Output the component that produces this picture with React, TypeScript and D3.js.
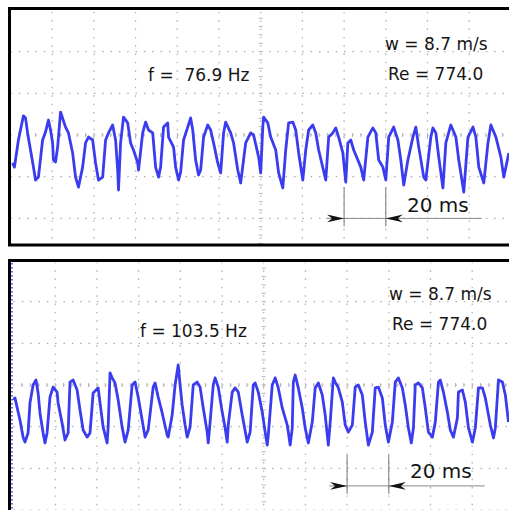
import React, { useRef, useEffect } from "react";
import * as d3 from "d3";

// time (ms) and amplitude (grid divisions)
const topTrace: [number, number][] = [
  [1.0, -0.67], [1.9, -0.77], [3.8, -0.12], [6.2, 0.46], [7.2, 0.41], [8.2, 0.05], [9.6, -0.36], [11.0, -0.77],
  [12.0, -1.08], [13.4, -1.01], [15.4, -0.12], [16.8, 0.07], [18.2, 0.36], [19.2, 0.12], [20.2, -0.19], [20.6, -0.6],
  [21.6, -0.65], [22.6, -0.29], [24.0, 0.55], [26.4, 0.19], [27.8, 0.05], [29.8, -0.43], [31.2, -1.01], [32.6, -1.25],
  [34.6, -0.77], [36.0, -0.19], [37.4, -0.05], [39.4, -0.12], [40.8, -0.67], [42.2, -1.08], [44.2, -1.01], [45.6, -0.12],
  [47.0, 0.05], [49.0, 0.24], [50.4, -0.12], [51.4, -0.84], [51.8, -1.32], [52.8, -0.19], [54.2, 0.43], [56.2, 0.29],
  [57.6, -0.19], [59.0, -0.36], [61.0, -0.67], [61.4, -0.84], [63.4, 0.05], [64.8, 0.31], [66.2, 0.12], [68.2, 0.05],
  [69.6, -0.77], [71.0, -1.01], [72.0, -0.77], [73.4, 0.19], [75.4, 0.29], [75.8, -0.05], [78.2, -0.29], [79.2, -0.77],
  [80.6, -1.08], [81.6, -0.89], [83.0, -0.12], [85.0, 0.19], [86.4, 0.41], [87.4, 0.12], [88.8, -0.6], [90.2, -0.96],
  [91.2, -0.84], [92.6, -0.05], [94.6, 0.24], [96.0, 0.12], [97.4, -0.19], [99.4, -0.67], [100.8, -0.91], [102.2, 0.05],
  [103.2, 0.31], [105.6, 0.05], [107.0, -0.19], [109.0, -0.84], [110.4, -1.15], [112.8, -0.19], [115.2, 0.05], [116.6, 0],
  [119.0, -0.53], [120.0, -0.91], [121.0, 0.19], [121.4, 0.43], [123.4, 0.29], [124.8, -0.05], [127.2, -0.36], [128.6, -0.91],
  [130.6, -1.27], [132.0, -0.36], [133.4, 0.29], [135.4, 0.31], [136.8, 0.12], [138.2, -0.43], [140.2, -1.08], [141.6, -0.36],
  [143.0, 0.12], [145.0, 0.24], [146.4, 0.05], [147.8, -0.36], [151.2, -1.08], [152.6, -0.05], [154.6, 0.05], [156.0, 0.17],
  [157.4, -0.05], [159.4, -0.43], [160.8, -1.13], [161.8, -0.19], [163.2, -0.12], [164.6, -0.36], [166.6, -0.6], [168.0, -0.77],
  [169.4, -1.08], [171.4, -0.05], [173.8, 0.17], [175.2, 0.05], [176.6, -0.6], [178.6, -0.77], [180.0, -1.08], [181.4, -0.05],
  [183.8, 0.19], [185.8, -0.12], [187.2, -0.6], [188.6, -1.2], [190.6, -0.6], [193.0, -0.05], [194.4, 0.19], [195.8, -0.29],
  [198.2, -1.01], [199.2, -1.08], [201.6, -0.05], [202.6, 0.17], [204.0, 0.05], [205.4, -0.53], [207.4, -1.27], [208.8, -0.19],
  [211.2, 0.24], [213.6, -0.05], [215.0, -0.6], [217.4, -1.37], [219.4, -0.05], [221.8, 0.19], [223.2, -0.05], [224.6, -0.77],
  [227.0, -1.15], [229.0, -0.19], [230.4, 0.24], [232.8, -0.05], [235.2, -0.53], [236.6, -1.01], [239.0, -0.43],
];

const bottomTrace: [number, number][] = [
  [0, -0.36], [0.7, -0.31], [1.7, -0.53], [3.1, -0.84], [4.6, -1.25], [5.5, -1.37], [7.0, -1.15], [7.9, -0.43],
  [9.4, 0], [10.8, 0.12], [11.8, -0.19], [12.7, -0.67], [14.2, -1.15], [15.1, -1.39], [16.1, -1.15], [17.5, -0.29],
  [19.0, -0.05], [20.9, -0.17], [21.4, -0.43], [23.3, -0.91], [24.7, -1.32], [26.2, -1.15], [27.1, 0.07], [28.6, 0.12],
  [30.5, -0.12], [31.9, -0.6], [33.4, -1.08], [35.3, -1.25], [36.7, -1.15], [38.2, -0.19], [40.6, -0.07], [41.5, -0.43],
  [43.0, -1.01], [44.9, -1.39], [45.4, -1.01], [46.3, 0.29], [47.3, 0.17], [48.7, 0.05], [50.2, -0.36], [52.1, -1.01],
  [53.5, -1.37], [55.0, -1.08], [56.9, 0], [58.3, 0.07], [59.8, -0.29], [61.7, -0.84], [63.1, -1.25], [64.6, -1.08],
  [67.0, -0.05], [67.9, 0.05], [69.4, -0.29], [71.3, -0.67], [73.7, -1.2], [74.2, -1.25], [76.1, -0.72], [77.5, 0],
  [79.0, 0.48], [79.9, 0], [80.9, -0.48], [82.3, -0.96], [83.3, -1.25], [84.7, -1.01], [86.2, 0], [88.1, 0.07],
  [89.5, -0.05], [91.0, -0.55], [92.9, -1.13], [93.4, -1.39], [94.3, -0.89], [95.8, 0], [96.7, 0.17], [98.2, -0.05],
  [100.1, -0.65], [101.5, -1.03], [102.5, -1.37], [103.0, -0.96], [104.9, -0.17], [106.3, -0.07], [107.8, -0.17], [109.7, -0.72],
  [112.1, -1.37], [113.5, -1.13], [115.0, 0], [115.9, 0.05], [117.4, -0.17], [119.3, -0.65], [120.7, -1.13], [121.7, -1.44],
  [122.2, -1.2], [124.1, 0], [125.5, 0.17], [127.0, -0.07], [128.9, -0.55], [131.3, -0.96], [132.7, -1.44], [133.7, -1.03],
  [134.2, 0.07], [135.1, 0.24], [136.6, -0.07], [138.5, -0.55], [139.9, -1.03], [141.4, -1.39], [143.3, -0.89], [144.7, -0.07],
  [146.2, 0.05], [148.1, -0.24], [149.5, -0.72], [151.0, -1.44], [151.9, -0.89], [153.4, 0.17], [154.3, 0.07], [155.8, -0.07],
  [157.7, -0.41], [159.1, -0.96], [160.6, -1.13], [162.5, -0.96], [163.9, -0.05], [165.4, 0], [167.3, -0.24], [168.7, -0.89],
  [170.2, -1.44], [172.1, -1.13], [173.5, -0.07], [175.0, -0.05], [176.9, -0.31], [178.3, -0.96], [179.8, -1.37], [181.7, -0.89],
  [183.1, 0.07], [184.6, 0.17], [186.5, -0.07], [187.9, -0.48], [189.4, -1.03], [190.8, -1.39], [191.8, -1.03], [192.7, 0],
  [194.2, 0.05], [196.1, -0.07], [197.5, -0.55], [199.0, -1.13], [200.9, -1.25], [202.3, -0.89], [203.8, 0.07], [204.7, 0.12],
  [206.2, -0.17], [208.1, -0.65], [209.5, -1.08], [211.0, -1.25], [212.9, -0.79], [213.4, -0.17], [215.3, -0.12], [216.7, -0.41],
  [218.2, -1.03], [220.1, -1.37], [221.5, -1.03], [223.0, -0.07], [224.9, -0.07], [226.3, -0.31], [228.7, -0.96], [230.2, -1.27],
  [231.1, -1.03], [232.6, 0.12], [234.5, 0.07], [235.9, -0.24], [237.4, -0.89],
];

const gridTimes = [20, 40, 60, 80, 100, 120, 140, 160, 180, 200, 220, 240];
const centerTime = 120;
const scaleBarMs = [160, 180];

const panels = [
  {
    trace: topTrace,
    freq: "f =  76.9 Hz",
    speed: "w = 8.7 m/s",
    reynolds: "Re = 774.0",
    gridDivs: [-2, -1, 0, 1, 2],
    bar: -2.0,
  },
  {
    trace: bottomTrace,
    freq: "f = 103.5 Hz",
    speed: "w = 8.7 m/s",
    reynolds: "Re = 774.0",
    gridDivs: [-3, -2, -1, 0, 1, 2],
    bar: -2.42,
  },
];

// layout of each photographed panel on the page
const frames = [
  { x0: 10.5, top: 8.5, bottom: 245, mid: 135, fx: 148, fy: 81, wx: 385, wy: 50, rx: 388, ry: 80, sx: 407, sy: 212 },
  { x0: 13.5, top: 260.5, bottom: 540, mid: 385, fx: 140, fy: 337, wx: 389, wy: 300, rx: 392, ry: 330, sx: 410, sy: 478 },
];

const W = 509;
const H = 510;
const DIV = 41.7;
const TRACE = "#3b3bef";
const FONT = "'DejaVu Sans', Verdana, sans-serif";

const App = () => {
  const svgRef = useRef<SVGSVGElement>(null);

  useEffect(() => {
    const svg = d3.select(svgRef.current);
    svg.selectAll("*").remove();
    svg.append("rect").attr("width", W).attr("height", H).attr("fill", "#fff");

    panels.forEach((p, i) => {
      const f = frames[i];
      const x = d3.scaleLinear().domain([0, 20]).range([f.x0, f.x0 + DIV]);
      const y = d3.scaleLinear().domain([0, 1]).range([f.mid, f.mid - DIV]);
      const g = svg.append("g");

      // dotted grid
      g.selectAll("line.v")
        .data(gridTimes)
        .join("line")
        .attr("x1", d => x(d)).attr("x2", d => x(d))
        .attr("y1", f.top + 2).attr("y2", Math.min(f.bottom, H))
        .attr("stroke", "#a8a8a8").attr("stroke-width", 1.2)
        .attr("stroke-dasharray", `1.4 ${DIV / 5 - 1.4}`)
        .attr("stroke-dashoffset", -(f.mid - f.top) % (DIV / 5));
      g.selectAll("line.h")
        .data(p.gridDivs)
        .join("line")
        .attr("x1", f.x0).attr("x2", W)
        .attr("y1", d => y(d)).attr("y2", d => y(d))
        .attr("stroke", "#a8a8a8").attr("stroke-width", 1.2)
        .attr("stroke-dasharray", `1.4 ${DIV / 5 - 1.4}`);

      // minor ticks on the centre axes
      const minor = d3.range(-30, 31).map(k => k * DIV / 5);
      g.selectAll("line.mx")
        .data(minor.filter(m => f.mid + m > f.top + 3 && f.mid + m < Math.min(f.bottom, H)))
        .join("line")
        .attr("x1", x(centerTime) - 2).attr("x2", x(centerTime) + 2)
        .attr("y1", m => f.mid + m).attr("y2", m => f.mid + m)
        .attr("stroke", "#b4b4b4").attr("stroke-width", 1);
      g.selectAll("line.my")
        .data(minor.map(m => x(centerTime) + m).filter(v => v > f.x0 + 2 && v < W))
        .join("line")
        .attr("x1", v => v).attr("x2", v => v)
        .attr("y1", f.mid - 2).attr("y2", f.mid + 2)
        .attr("stroke", "#b4b4b4").attr("stroke-width", 1);

      // the trace
      const line = d3.line<[number, number]>()
        .x(d => x(d[0]))
        .y(d => y(d[1]));
      g.append("path")
        .attr("d", line(p.trace))
        .attr("fill", "none")
        .attr("stroke", TRACE)
        .attr("stroke-width", 2.8)
        .attr("stroke-linejoin", "round");

      // 20 ms scale bar
      const [a, b] = scaleBarMs;
      g.append("line")
        .attr("x1", x(a - 8.5)).attr("x2", x(b + 46))
        .attr("y1", y(p.bar)).attr("y2", y(p.bar))
        .attr("stroke", "#888").attr("stroke-width", 1);
      g.selectAll("line.bar")
        .data(scaleBarMs)
        .join("line")
        .attr("x1", d => x(d)).attr("x2", d => x(d))
        .attr("y1", y(p.bar) - 31).attr("y2", y(p.bar) + 8)
        .attr("stroke", "#777").attr("stroke-width", 1);
      const head = "M0,0 L-17,-3.8 L-12,0 L-17,3.8 Z";
      g.append("path").attr("d", head)
        .attr("transform", `translate(${x(a)},${y(p.bar)})`).attr("fill", "#111");
      g.append("path").attr("d", head)
        .attr("transform", `translate(${x(b)},${y(p.bar)}) scale(-1,1)`).attr("fill", "#111");

      // labels
      const txt = (s: string, tx: number, ty: number, size: number) =>
        g.append("text").attr("x", tx).attr("y", ty).text(s)
          .style("white-space", "pre")
          .attr("font-family", FONT).attr("font-size", size).attr("fill", "#151515");
      txt(p.freq, f.fx, f.fy, 17);
      txt(p.speed, f.wx, f.wy, 17);
      txt(p.reynolds, f.rx, f.ry, 17);
      txt("20 ms", f.sx, f.sy, 20);

      // frame
      g.append("rect")
        .attr("x", 9.5).attr("y", f.top)
        .attr("width", W + 20).attr("height", f.bottom - f.top)
        .attr("fill", "none").attr("stroke", "#000").attr("stroke-width", 3);
    });

    // blue dotted edge along the lower panel's left border
    svg.append("line")
      .attr("x1", 12).attr("x2", 12).attr("y1", 263).attr("y2", H)
      .attr("stroke", TRACE).attr("stroke-width", 1.5).attr("stroke-dasharray", "1.5 2.5");
  }, []);

  return (
    <svg ref={svgRef} width={W} height={H}
      style={{ position: "absolute", left: 0, top: 0, display: "block" }} />
  );
};

export default App;
